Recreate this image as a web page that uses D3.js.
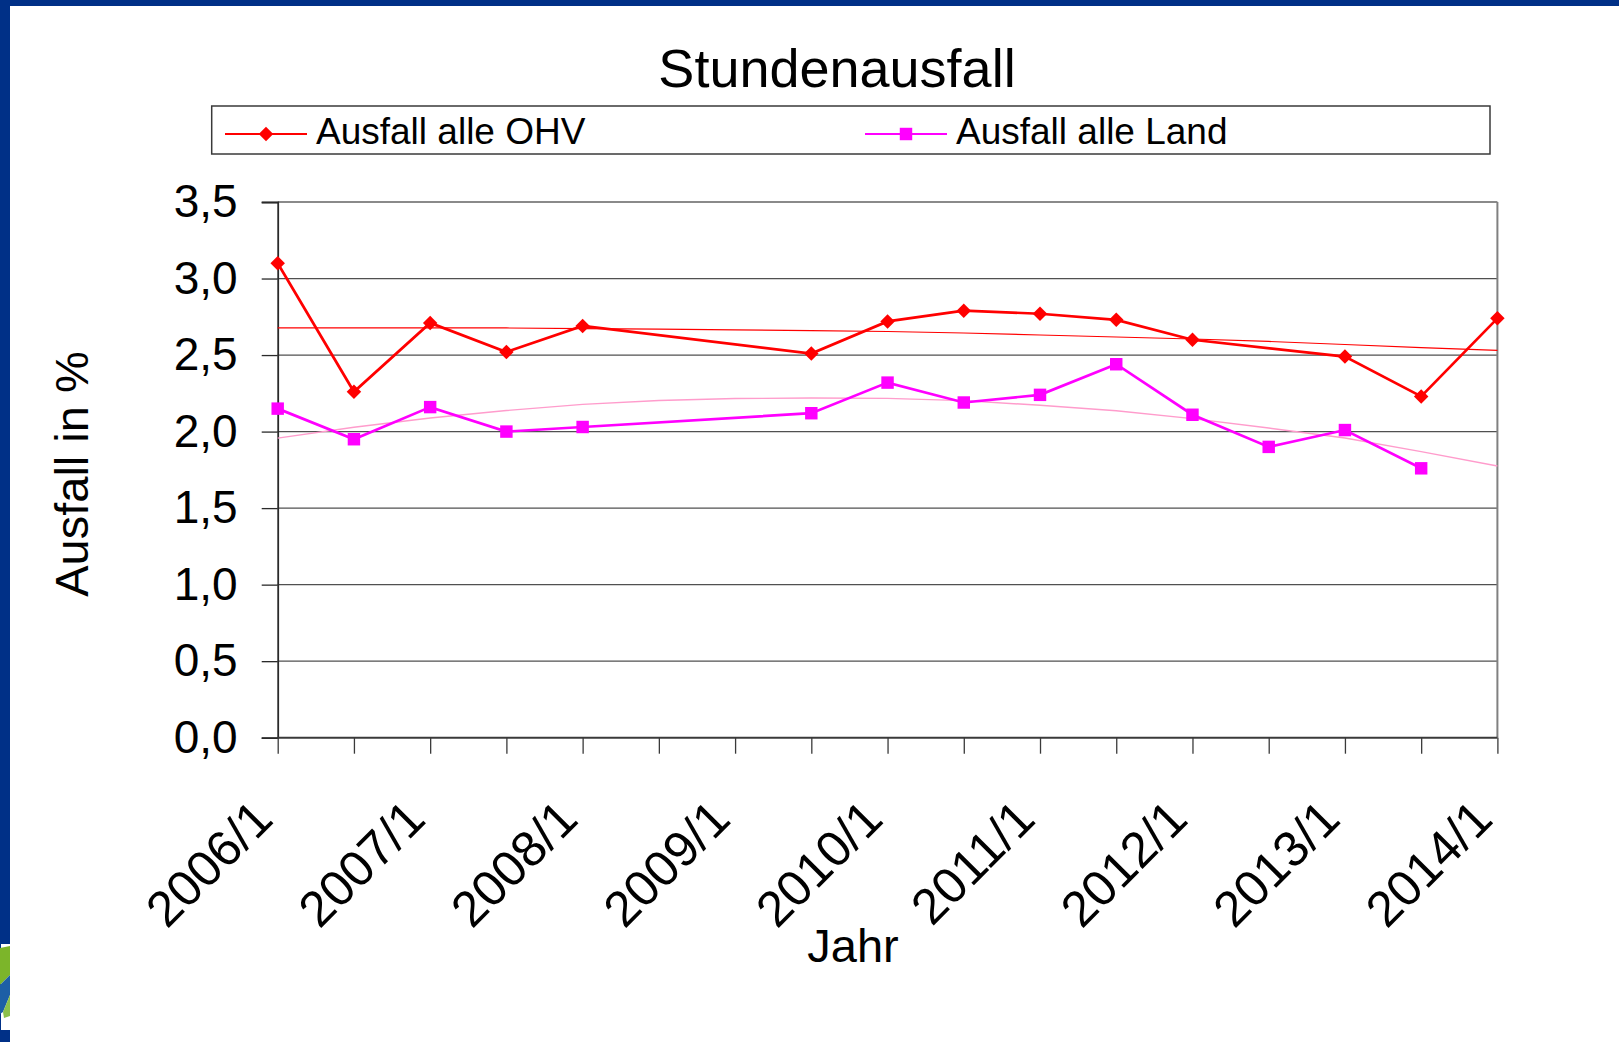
<!DOCTYPE html>
<html>
<head>
<meta charset="utf-8">
<script src="https://cdn.jsdelivr.net/npm/d3@7"></script>
<style>
html, body { margin: 0; padding: 0; background: #fff; }
svg { display: block; font-family: "Liberation Sans", Arial, sans-serif; }
</style>
</head>
<body>
<svg id="chart" width="1619" height="1042"></svg>
<script>
// half-year categories, only the "/1" ones get a label
const categories = ["2006/1", "2006/2", "2007/1", "2007/2", "2008/1", "2008/2", "2009/1", "2009/2",
    "2010/1", "2010/2", "2011/1", "2011/2", "2012/1", "2012/2", "2013/1", "2013/2", "2014/1"];

const ohv = [3.10, 2.26, 2.71, 2.52, 2.69, null, null, 2.51, 2.72, 2.79, 2.77, 2.73, 2.60, null, 2.49, 2.23, 2.74];
const land = [2.15, 1.95, 2.16, 2.00, 2.03, null, null, 2.12, 2.32, 2.19, 2.24, 2.44, 2.11, 1.90, 2.01, 1.76, null];

// trend lines
const ohvTrend = [2.677, 2.677, 2.677, 2.677, 2.673, 2.670, 2.664, 2.660, 2.654, 2.644, 2.631, 2.618, 2.605, 2.589, 2.569, 2.549, 2.530];
const landTrend = [1.957, 2.028, 2.089, 2.138, 2.178, 2.203, 2.216, 2.219, 2.217, 2.202, 2.172, 2.136, 2.085, 2.023, 1.958, 1.869, 1.775];

const yTicks = [0, 0.5, 1.0, 1.5, 2.0, 2.5, 3.0, 3.5];

const seriesNames = ["Ausfall alle OHV", "Ausfall alle Land"];

const svg = d3.select("#chart");
const W = 1619, H = 1042;
const plot = { left: 277.7, right: 1497.4, top: 202, bottom: 737.7 };

// slide frame
svg.append("rect").attr("width", W).attr("height", H).attr("fill", "#fff");
svg.append("rect").attr("width", W).attr("height", 6).attr("fill", "#003087");
svg.append("rect").attr("width", 10).attr("height", H).attr("fill", "#003087");

// bit of the logo peeking in at bottom left
const logo = svg.append("g");
logo.append("rect").attr("x", 1).attr("y", 944).attr("width", 9).attr("height", 86).attr("fill", "#fff");
logo.append("path").attr("d", "M0,948 L10,946 L10,975 L0,985 Z").attr("fill", "#7cb52a");
logo.append("path").attr("d", "M0,985 L10,975 L10,995 L3,1012 L0,1014 Z").attr("fill", "#1d5fa6");
logo.append("path").attr("d", "M3,1012 L10,995 L10,1016 L4,1018 Z").attr("fill", "#8cc04a");

const x = d3.scalePoint().domain(categories).range([plot.left, plot.right]);
const y = d3.scaleLinear().domain([0, 3.5]).range([plot.bottom, plot.top]);

// gridlines
svg.append("g")
    .selectAll("line")
    .data(yTicks.filter(function(d) { return d > 0 && d < 3.5; }))
    .enter().append("line")
    .attr("x1", plot.left).attr("x2", plot.right)
    .attr("y1", function(d) { return y(d); })
    .attr("y2", function(d) { return y(d); })
    .attr("stroke", "#505050")
    .attr("stroke-width", 1.3);

// plot border top and right
svg.append("line")
    .attr("x1", plot.left).attr("x2", plot.right)
    .attr("y1", y(3.5)).attr("y2", y(3.5))
    .attr("stroke", "#8a8a8a").attr("stroke-width", 1.8);
svg.append("line")
    .attr("x1", plot.right).attr("x2", plot.right)
    .attr("y1", y(3.5)).attr("y2", y(0))
    .attr("stroke", "#808080").attr("stroke-width", 2);

// y axis
const yAxis = svg.append("g")
    .attr("transform", "translate(" + plot.left + ",0)")
    .call(d3.axisLeft(y)
        .tickValues(yTicks)
        .tickSize(16)
        .tickPadding(24)
        .tickFormat(function(d) { return d.toFixed(1).replace(".", ","); }));
yAxis.select(".domain").attr("stroke", "#2a2a2a").attr("stroke-width", 1.8);
yAxis.selectAll(".tick line").attr("stroke", "#2a2a2a").attr("stroke-width", 1.3);
yAxis.selectAll(".tick text")
    .attr("fill", "#000")
    .style("font-size", "46px")
    .style("font-family", "Liberation Sans, Arial, sans-serif");

// x axis
const xAxis = svg.append("g")
    .attr("transform", "translate(0," + plot.bottom + ")")
    .call(d3.axisBottom(x)
        .tickSize(16)
        .tickFormat(function(d) { return d.endsWith("/1") ? d : ""; }));
xAxis.select(".domain").attr("stroke", "#3a3a3a").attr("stroke-width", 2).attr("d", "M" + plot.left + ",0H" + plot.right);
xAxis.selectAll(".tick line").attr("stroke", "#3a3a3a").attr("stroke-width", 1.3);
xAxis.selectAll(".tick text")
    .attr("fill", "#000")
    .attr("y", 0).attr("dy", 0)
    .attr("text-anchor", "end")
    .attr("transform", "translate(-3,84) rotate(-45)")
    .style("font-size", "50px")
    .style("font-family", "Liberation Sans, Arial, sans-serif");

// trend lines
const trendLine = d3.line()
    .x(function(d, i) { return x(categories[i]); })
    .y(function(d) { return y(d); });

svg.append("path")
    .attr("d", trendLine(landTrend))
    .attr("fill", "none")
    .attr("stroke", "#ff9ccc")
    .attr("stroke-width", 1.4);
svg.append("path")
    .attr("d", trendLine(ohvTrend))
    .attr("fill", "none")
    .attr("stroke", "#ff0000")
    .attr("stroke-width", 1.2);

// data lines, gaps are bridged
function seriesPoints(values) {
    return values.map(function(v, i) { return { c: categories[i], v: v }; })
        .filter(function(d) { return d.v !== null; });
}
const dataLine = d3.line()
    .x(function(d) { return x(d.c); })
    .y(function(d) { return y(d.v); });

const ohvPts = seriesPoints(ohv);
const landPts = seriesPoints(land);

svg.append("path")
    .attr("d", dataLine(landPts))
    .attr("fill", "none")
    .attr("stroke", "#ff00ff")
    .attr("stroke-width", 2.7);
svg.append("path")
    .attr("d", dataLine(ohvPts))
    .attr("fill", "none")
    .attr("stroke", "#ff0000")
    .attr("stroke-width", 2.7);

const diamond = d3.symbol().type(d3.symbolSquare).size(105);
const square = d3.symbol().type(d3.symbolSquare).size(155);

svg.append("g").selectAll("path")
    .data(landPts)
    .enter().append("path")
    .attr("d", square())
    .attr("transform", function(d) { return "translate(" + x(d.c) + "," + y(d.v) + ")"; })
    .attr("fill", "#ff00ff");

svg.append("g").selectAll("path")
    .data(ohvPts)
    .enter().append("path")
    .attr("d", diamond())
    .attr("transform", function(d) { return "translate(" + x(d.c) + "," + y(d.v) + ") rotate(45)"; })
    .attr("fill", "#ff0000");

// title
svg.append("text")
    .attr("x", 837).attr("y", 87)
    .attr("text-anchor", "middle")
    .style("font-size", "54px")
    .text("Stundenausfall");

// legend
svg.append("rect")
    .attr("x", 211.7).attr("y", 106)
    .attr("width", 1490 - 211.7).attr("height", 48)
    .attr("fill", "#fff")
    .attr("stroke", "#3a3a3a")
    .attr("stroke-width", 1.5);

const legendItems = [
    { name: seriesNames[0], color: "#ff0000", x: 225, marker: diamond, rot: 45 },
    { name: seriesNames[1], color: "#ff00ff", x: 865, marker: square, rot: 0 }
];
const leg = svg.append("g").selectAll("g")
    .data(legendItems)
    .enter().append("g")
    .attr("transform", function(d) { return "translate(" + d.x + ",134)"; });
leg.append("line")
    .attr("x1", 0).attr("x2", 82)
    .attr("stroke", function(d) { return d.color; })
    .attr("stroke-width", 2);
leg.append("path")
    .attr("d", function(d) { return d.marker(); })
    .attr("transform", function(d) { return "translate(41,0) rotate(" + d.rot + ")"; })
    .attr("fill", function(d) { return d.color; });
leg.append("text")
    .attr("x", 91).attr("y", 9.5)
    .style("font-size", "37px")
    .text(function(d) { return d.name; });

// axis titles
svg.append("text")
    .attr("transform", "translate(88,474) rotate(-90)")
    .attr("text-anchor", "middle")
    .style("font-size", "47px")
    .text("Ausfall in %");

svg.append("text")
    .attr("x", 853).attr("y", 962)
    .attr("text-anchor", "middle")
    .style("font-size", "47px")
    .text("Jahr");
</script>
</body>
</html>
